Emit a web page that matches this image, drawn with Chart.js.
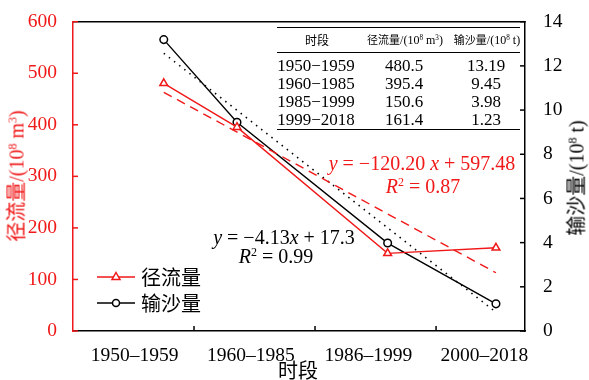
<!DOCTYPE html>
<html><head><meta charset="utf-8">
<script src="https://cdn.jsdelivr.net/npm/chart.js@4/dist/chart.umd.min.js"></script>
<style>
html,body{margin:0;padding:0;background:#fff;}
#wrap{position:relative;width:589px;height:380px;overflow:hidden;font-family:"Liberation Serif","Noto Sans CJK SC",serif;}
canvas{position:absolute;left:0;top:0;}
.t{position:absolute;white-space:nowrap;transform:translate(-50%,-50%);line-height:1;}
.l{position:absolute;white-space:nowrap;transform:translate(0,-50%);line-height:1;}
.rule{position:absolute;height:0;border-top:1.5px solid #000;}
sup{font-size:60%;vertical-align:0;position:relative;top:-0.55em;}
.cjk{font-family:"Noto Sans CJK SC",sans-serif;}
</style></head>
<body><div id="wrap"><canvas id="c" width="589" height="380"></canvas></div>
<script>
// ---- data ----
const categories = ['1950–1959', '1960–1985', '1986–1999', '2000–2018'];
const categoryTickPos = [0.51, 1.47, 2.44, 3.40];
const periodPos = [0.75, 1.355, 2.6, 3.495];
const runoff = [480.5, 395.4, 150.6, 161.4];
const sediment = [13.19, 9.45, 3.98, 1.23];
const runoffFitEnds = [463, 113];
const sedimentFitEnds = [12.57, 0.85];
const leftTicks = [0, 100, 200, 300, 400, 500, 600];
const rightTicks = [0, 2, 4, 6, 8, 10, 12, 14];
const tablePeriods = ['1950−1959', '1960−1985', '1985−1999', '1999−2018'];
const tableRunoff = ['480.5', '395.4', '150.6', '161.4'];
const tableSediment = ['13.19', '9.45', '3.98', '1.23'];

const RED = '#f01818';
const serif = '"Liberation Serif", serif';

const inwardTicks = {
  id: 'inwardTicks',
  afterDraw(chart) {
    const {ctx, chartArea: a, scales} = chart;
    ctx.save();
    ctx.lineWidth = 1.5;
    ctx.strokeStyle = '#000';
    ctx.beginPath(); ctx.moveTo(a.left, a.top); ctx.lineTo(a.right + 0.75, a.top); ctx.stroke();
    ctx.strokeStyle = RED;
    leftTicks.forEach(v => { const y = scales.y.getPixelForValue(v); ctx.beginPath(); ctx.moveTo(a.left, y); ctx.lineTo(a.left + 5, y); ctx.stroke(); });
    ctx.strokeStyle = '#000';
    rightTicks.forEach(v => { const y = scales.y2.getPixelForValue(v); ctx.beginPath(); ctx.moveTo(a.right, y); ctx.lineTo(a.right - 5, y); ctx.stroke(); });
    [1, 2, 3].forEach(v => { const x = scales.x.getPixelForValue(v); ctx.beginPath(); ctx.moveTo(x, a.bottom); ctx.lineTo(x, a.bottom - 5); ctx.stroke(); });
    const items = [{c: RED, y: 277, s: 'tri'}, {c: '#000', y: 303, s: 'circ'}];
    items.forEach(it => {
      ctx.strokeStyle = it.c; ctx.lineWidth = 1.3;
      ctx.beginPath(); ctx.moveTo(97, it.y); ctx.lineTo(135, it.y); ctx.stroke();
      ctx.fillStyle = '#fff'; ctx.lineWidth = 1.5;
      ctx.beginPath();
      if (it.s === 'tri') { ctx.moveTo(116, it.y - 4.5); ctx.lineTo(120, it.y + 2.5); ctx.lineTo(112, it.y + 2.5); ctx.closePath(); }
      else { ctx.arc(116, it.y, 3.5, 0, Math.PI * 2); }
      ctx.fill(); ctx.stroke();
    });
    ctx.restore();
  }
};

new Chart(document.getElementById('c'), {
  type: 'line',
  data: {
    datasets: [
      { label: '径流量拟合', data: [{x: periodPos[0], y: runoffFitEnds[0]}, {x: periodPos[3], y: runoffFitEnds[1]}], yAxisID: 'y',
        borderColor: RED, borderWidth: 1.4, borderDash: [9, 6], pointRadius: 0, fill: false },
      { label: '输沙量拟合', data: [{x: periodPos[0], y: sedimentFitEnds[0]}, {x: periodPos[3], y: sedimentFitEnds[1]}], yAxisID: 'y2',
        borderColor: '#000', borderWidth: 1.6, borderDash: [1.5, 5], pointRadius: 0, fill: false },
      { label: '径流量', data: periodPos.map((x, i) => ({x, y: runoff[i]})), yAxisID: 'y',
        borderColor: RED, borderWidth: 1.4, pointStyle: 'triangle', pointRadius: 4.5, pointBorderWidth: 1.5,
        pointBackgroundColor: '#fff', pointBorderColor: RED, fill: false },
      { label: '输沙量', data: periodPos.map((x, i) => ({x, y: sediment[i]})), yAxisID: 'y2',
        borderColor: '#000', borderWidth: 1.4, pointStyle: 'circle', pointRadius: 3.8, pointBorderWidth: 1.5,
        pointBackgroundColor: '#fff', pointBorderColor: '#000', fill: false }
    ]
  },
  options: {
    responsive: false, animation: false,
    layout: {padding: {top: 20, left: 0, right: 0, bottom: 0}},
    plugins: {legend: {display: false}, tooltip: {enabled: false}},
    scales: {
      x: {
        type: 'linear', min: 0, max: 3.735,
        afterBuildTicks: s => { s.ticks = categoryTickPos.map(v => ({value: v})); },
        ticks: { autoSkip: false, maxRotation: 0, padding: 5, color: '#000',
          font: {family: serif, size: 19.5},
          callback: (v) => { const i = categoryTickPos.indexOf(v); return i >= 0 ? categories[i] : ''; } },
        grid: {display: false},
        border: {color: '#000', width: 1.5},
        afterFit: s => { s.height = 49; }
      },
      y: {
        position: 'left', min: 0, max: 600,
        afterBuildTicks: s => { s.ticks = leftTicks.map(v => ({value: v})); },
        ticks: {color: RED, padding: 8, font: {family: serif, size: 19.5}},
        grid: {display: false},
        border: {color: RED, width: 1.5},
        afterFit: s => { s.width = 73; }
      },
      y2: {
        position: 'right', min: 0, max: 14,
        afterBuildTicks: s => { s.ticks = rightTicks.map(v => ({value: v})); },
        ticks: {color: '#000', padding: 10, font: {family: serif, size: 19.5}},
        grid: {display: false},
        border: {color: '#000', width: 1.5},
        afterFit: s => { s.width = 64; }
      }
    }
  },
  plugins: [inwardTicks]
});

// ---- text overlays ----
const wrap = document.getElementById('wrap');
function add(cls, x, y, html, style) {
  const d = document.createElement('div');
  d.className = cls; d.style.left = x + 'px'; d.style.top = y + 'px';
  d.innerHTML = html; if (style) d.style.cssText += style; wrap.appendChild(d); return d;
}
add('t', 16, 176, '<span class="cjk">径流量</span>/(10<sup>8</sup> m<sup>3</sup>)', 'color:' + RED + ';font-size:20px;transform:translate(-50%,-50%) rotate(-90deg);');
add('t', 576, 178, '<span class="cjk">输沙量</span>/(10<sup>8</sup> t)', 'color:#000;font-size:20px;transform:translate(-50%,-50%) rotate(-90deg);');
add('t', 298, 370, '<span class="cjk">时段</span>', 'font-size:20px;');
[27, 52, 129].forEach(y => add('rule', 277, y, '', 'width:243px;'));
add('t', 317, 40, '<span class="cjk" style="font-size:12px">时段</span>', 'font-size:12px;');
add('t', 405, 40, '<span class="cjk" style="font-size:11px">径流量</span>/(10<sup>8</sup> m<sup>3</sup>)', 'font-size:12px;');
add('t', 487, 40, '<span class="cjk" style="font-size:11px">输沙量</span>/(10<sup>8</sup> t)', 'font-size:12px;');
const rowY = [65, 83, 101, 119];
tablePeriods.forEach((p, i) => {
  add('t', 316, rowY[i], p, 'font-size:17px;');
  add('t', 404, rowY[i], tableRunoff[i], 'font-size:17px;');
  add('t', 486, rowY[i], tableSediment[i], 'font-size:17px;');
});
add('t', 422, 163, '<i>y</i> = −120.20 <i>x</i> + 597.48', 'color:' + RED + ';font-size:20px;');
add('t', 423, 186, '<i>R</i><sup>2</sup> = 0.87', 'color:' + RED + ';font-size:20px;');
add('t', 284, 237, '<i>y</i> = −4.13<i>x</i> + 17.3', 'color:#000;font-size:20px;');
add('t', 276, 256, '<i>R</i><sup>2</sup> = 0.99', 'color:#000;font-size:20px;');
add('l', 141, 277, '<span class="cjk">径流量</span>', 'font-size:20px;');
add('l', 141, 303, '<span class="cjk">输沙量</span>', 'font-size:20px;');
</script>
</body></html>
